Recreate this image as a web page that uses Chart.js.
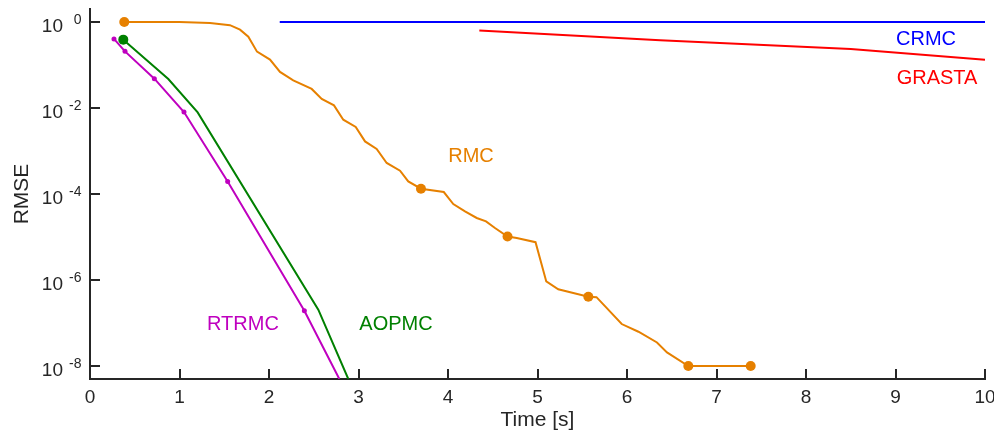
<!DOCTYPE html>
<html>
<head>
<meta charset="utf-8">
<title>RMSE vs time</title>
<script src="https://cdn.jsdelivr.net/npm/chart.js@4.4.1/dist/chart.umd.min.js"></script>
<style>
  html, body { margin: 0; background: #fff; }
  canvas { display: block; }
</style>
</head>
<body>
<canvas id="rmse" width="994" height="436"></canvas>
<script>
// values (time in s, RMSE)
const rmcT = [0.383, 1.0, 1.341, 1.564, 1.676, 1.769, 1.866, 2.011, 2.123, 2.271, 2.477, 2.589, 2.726, 2.830,
  2.969, 3.073, 3.203, 3.315, 3.464, 3.556, 3.698, 3.953, 4.059, 4.190, 4.321, 4.425, 4.525, 4.665, 4.768,
  4.978, 5.098, 5.232, 5.568, 5.659, 5.941, 6.128, 6.335, 6.447, 6.685, 7.382];
const rmcE = [1.0, 0.995, 0.948, 0.843, 0.662, 0.455, 0.204, 0.133, 0.0688, 0.0438, 0.0277, 0.0162, 0.0115, 0.00534,
  0.00362, 0.00167, 0.00111, 5.26e-4, 3.48e-4, 1.96e-4, 1.33e-4, 1.11e-4, 5.85e-5, 3.94e-5, 2.77e-5, 2.31e-5, 1.62e-5, 1.03e-5, 9.5e-6,
  7.57e-6, 9.27e-7, 6.11e-7, 4.09e-7, 4.0e-7, 9.48e-8, 6.28e-8, 3.54e-8, 2.07e-8, 1.0e-8, 1.0e-8];
const rmcDots = [0, 20, 27, 32, 38, 39];

const aopT = [0.372, 0.875, 1.203, 2.551, 2.886];
const aopE = [0.388, 0.0472, 0.0079, 2.04e-7, 5e-9];
const aopDots = [0];

const rtrT = [0.268, 0.391, 0.719, 1.050, 1.538, 2.395, 2.786];
const rtrE = [0.403, 0.207, 0.048, 0.00807, 1.96e-4, 1.93e-7, 5e-9];
const rtrDots = [0, 1, 2, 3, 4, 5];

const crmcT = [2.12, 10];
const crmcE = [1.0, 1.0];

const graT = [4.35, 6.37, 8.5, 10];
const graE = [0.63, 0.373, 0.235, 0.133];

const xTicks = [0, 1, 2, 3, 4, 5, 6, 7, 8, 9, 10];
const yTickExp = [0, -2, -4, -6, -8];

// in-plot series names (data coords of text centre / baseline)
const names = [
  { text: 'RMC',    x: 4.257, y: 5.6e-4, color: 'rgb(230,128,0)' },
  { text: 'CRMC',   x: 9.341, y: 0.297,  color: 'rgb(0,0,255)' },
  { text: 'GRASTA', x: 9.464, y: 0.0367, color: 'rgb(255,0,0)' },
  { text: 'RTRMC',  x: 1.709, y: 7.0e-8, color: 'rgb(191,0,191)' },
  { text: 'AOPMC',  x: 3.419, y: 7.0e-8, color: 'rgb(0,128,0)' }
];

const ink = '#262626';
const FONT = '"Liberation Sans", Arial, Helvetica, sans-serif';

function pts(ts, es){ return ts.map((t, i) => ({ x: t, y: es[i] })); }
function radii(n, dots, r){ return Array.from({ length: n }, (_, i) => dots.includes(i) ? r : 0); }

function series(label, ts, es, color, dots, r){
  return {
    label, data: pts(ts, es), showLine: true,
    borderColor: color, backgroundColor: color, borderWidth: 2,
    pointRadius: radii(ts.length, dots, r), pointBorderWidth: 0,
    pointBackgroundColor: color, tension: 0
  };
}

const axisDecor = {
  id: 'axisDecor',
  afterDraw(chart){
    const { ctx, chartArea: a, scales: { x, y } } = chart;
    ctx.save();
    ctx.strokeStyle = ink; ctx.lineWidth = 2;
    ctx.beginPath();
    xTicks.forEach(v => {
      const px = Math.round(x.getPixelForValue(v));
      ctx.moveTo(px, a.bottom); ctx.lineTo(px, a.bottom - 10);
    });
    yTickExp.forEach(e => {
      const py = Math.round(y.getPixelForValue(Math.pow(10, e)));
      ctx.moveTo(a.left, py); ctx.lineTo(a.left + 10, py);
    });
    ctx.stroke();

    ctx.fillStyle = ink; ctx.textAlign = 'right'; ctx.textBaseline = 'alphabetic';
    yTickExp.forEach(e => {
      const py = y.getPixelForValue(Math.pow(10, e));
      ctx.font = '19px ' + FONT;
      ctx.fillText('10', a.left - 27, py + 10);
      ctx.font = '14px ' + FONT;
      ctx.fillText(String(e), a.left - 8.5, py + 2);
    });

    ctx.textAlign = 'center';
    ctx.font = '20px ' + FONT;
    names.forEach(n => {
      ctx.fillStyle = n.color;
      ctx.fillText(n.text, x.getPixelForValue(n.x), y.getPixelForValue(n.y));
    });
    ctx.restore();
  }
};

new Chart(document.getElementById('rmse'), {
  type: 'scatter',
  data: {
    datasets: [
      series('CRMC', crmcT, crmcE, 'rgb(0,0,255)', [], 0),
      series('GRASTA', graT, graE, 'rgb(255,0,0)', [], 0),
      series('RTRMC', rtrT, rtrE, 'rgb(191,0,191)', rtrDots, 2.5),
      series('AOPMC', aopT, aopE, 'rgb(0,128,0)', aopDots, 5),
      series('RMC', rmcT, rmcE, 'rgb(230,128,0)', rmcDots, 5)
    ]
  },
  options: {
    responsive: false,
    animation: false,
    layout: { padding: { top: 9, right: 9, left: 0, bottom: 0 } },
    plugins: { legend: { display: false }, tooltip: { enabled: false } },
    scales: {
      x: {
        type: 'linear', min: 0, max: 10,
        grid: { display: false, drawTicks: false },
        border: { display: true, color: ink, width: 2 },
        ticks: { stepSize: 1, padding: 7, color: ink, font: { family: FONT, size: 19 } },
        title: { display: true, text: 'Time [s]', color: ink, padding: { top: 0, bottom: 3 }, font: { family: FONT, size: 21 } },
        afterFit(s){ s.height = 57; s.paddingLeft = 0; s.paddingRight = 0; }
      },
      y: {
        type: 'logarithmic', min: 5e-9, max: 2,
        grid: { display: false, drawTicks: false },
        border: { display: true, color: ink, width: 2 },
        ticks: { display: false },
        title: { display: true, text: 'RMSE', color: ink, padding: { top: 10, bottom: 0 }, font: { family: FONT, size: 21 } },
        afterFit(s){ s.width = 90; }
      }
    }
  },
  plugins: [axisDecor]
});
</script>
</body>
</html>
